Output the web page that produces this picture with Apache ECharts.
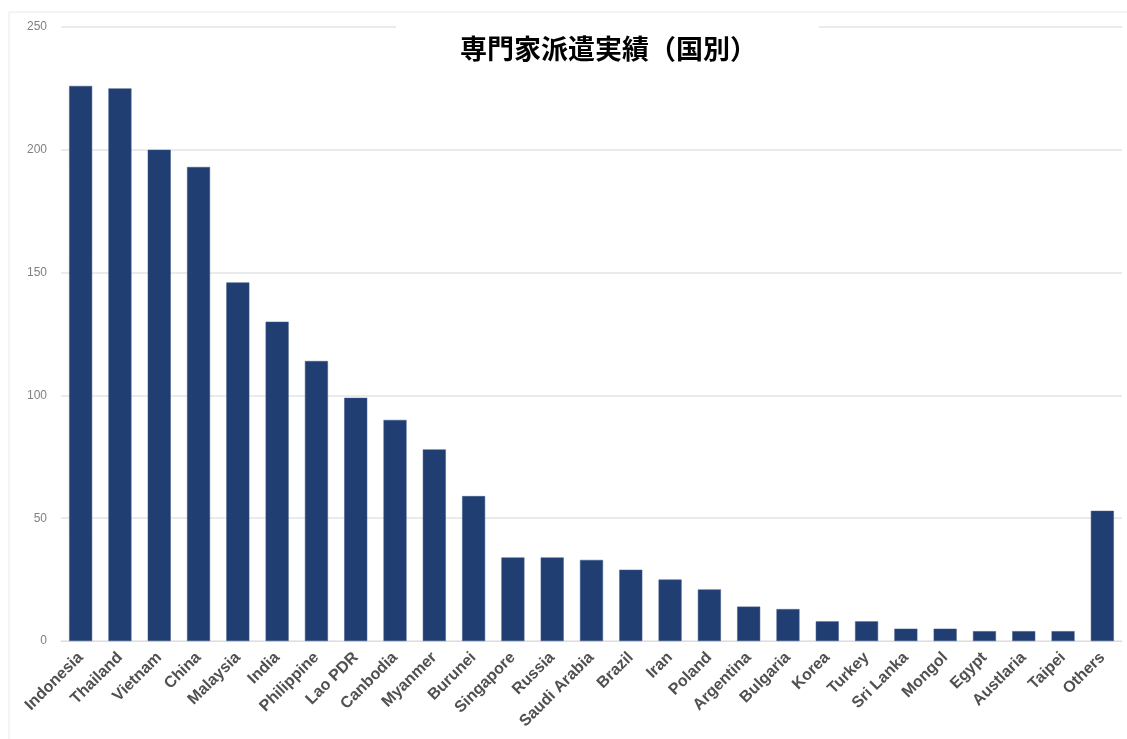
<!DOCTYPE html>
<html>
<head>
<meta charset="utf-8">
<script src="https://cdn.jsdelivr.net/npm/echarts@6/dist/echarts.min.js"></script>
<style>html,body{margin:0;padding:0;background:#fff;}#c{width:1127px;height:739px;}</style>
</head>
<body>
<div id="c"></div>
<script>
const titleText = '専門家派遣実績（国別）';
const categories = ['Indonesia','Thailand','Vietnam','China','Malaysia','India','Philippine','Lao PDR','Canbodia','Myanmer','Burunei','Singapore','Russia','Saudi Arabia','Brazil','Iran','Poland','Argentina','Bulgaria','Korea','Turkey','Sri Lanka','Mongol','Egypt','Austlaria','Taipei','Others'];
const values = [226,225,200,193,146,130,114,99,90,78,59,34,34,33,29,25,21,14,13,8,8,5,5,4,4,4,53];
const yMin = 0, yMax = 250, yStep = 50;

const chart = echarts.init(document.getElementById('c'));
chart.setOption({
  backgroundColor: '#fff',
  animation: false,
  graphic: [{
    type: 'polyline', z: -1,
    shape: { points: [[9, 739], [9, 12], [1127, 12]] },
    style: { stroke: '#e8e8e8', lineWidth: 1, fill: null }
  }],
  title: {
    text: titleText,
    left: 396,
    top: 20,
    padding: [15, 62, 6, 64],
    backgroundColor: '#fff',
    textStyle: { fontFamily: '"Noto Sans CJK JP", sans-serif', fontSize: 27, fontWeight: 'bold', color: '#000' }
  },
  grid: { left: 61, right: 5, top: 27, bottom: 98 },
  xAxis: {
    type: 'category',
    data: categories,
    axisLine: { show: true, lineStyle: { color: '#dedede', width: 1 } },
    axisTick: { show: false },
    axisLabel: {
      interval: 0, rotate: 45, margin: 14,
      fontFamily: '"Liberation Sans", Arial, sans-serif',
      fontSize: 16, fontWeight: 'bold', color: '#505050'
    }
  },
  yAxis: {
    type: 'value',
    min: yMin, max: yMax, interval: yStep,
    axisLine: { show: false },
    axisTick: { show: false },
    splitLine: { lineStyle: { color: '#e4e4e4', width: 1.5 } },
    axisLabel: { margin: 14, fontFamily: '"Liberation Sans", Arial, sans-serif', fontSize: 12, color: '#808080' }
  },
  series: [{
    type: 'bar',
    data: values,
    barWidth: 23,
    itemStyle: { color: '#213e72', borderColor: '#3a5688', borderWidth: 0.5 }
  }]
});
</script>
</body>
</html>
